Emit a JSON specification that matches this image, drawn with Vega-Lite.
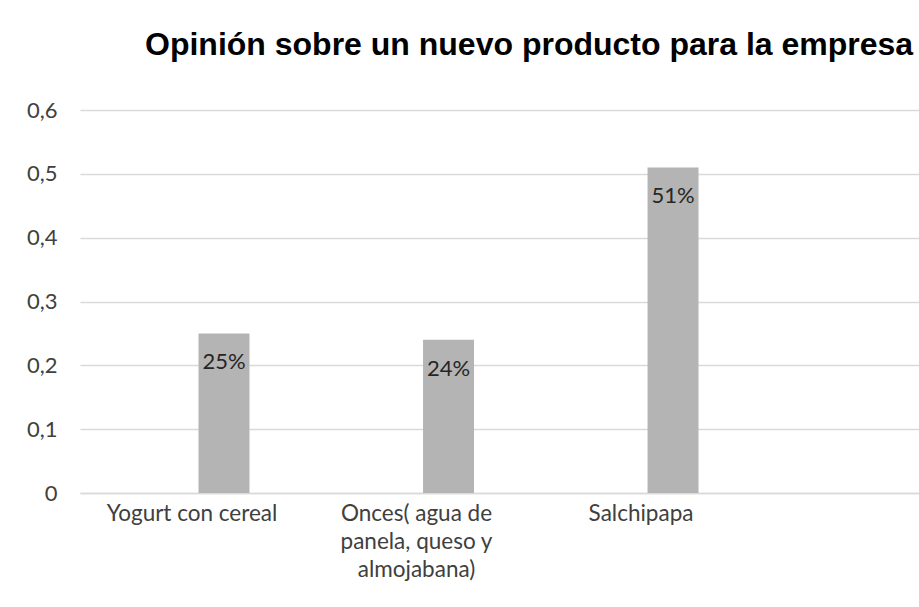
{
  "$schema": "https://vega.github.io/schema/vega-lite/v6.json",
  "autosize": "none",
  "width": 839,
  "height": 383,
  "padding": {"left": 80, "top": 110, "right": 0, "bottom": 114},
  "background": "white",
  "config": {"view": {"stroke": null}},
  "title": {
    "text": "Opinión sobre un nuevo producto para la empresa",
    "anchor": "start",
    "frame": "group",
    "dx": 65,
    "baseline": "alphabetic",
    "offset": 12,
    "font": "Liberation Sans",
    "fontSize": 32,
    "fontWeight": "bold",
    "color": "#000000"
  },
  "data": {
    "values": [
      {"producto": "Yogurt con cereal", "porcentaje": 0.25},
      {"producto": "Onces( agua de panela, queso y almojabana)", "porcentaje": 0.24},
      {"producto": "Salchipapa", "porcentaje": 0.51}
    ]
  },
  "encoding": {
    "x": {
      "field": "producto",
      "type": "nominal",
      "sort": null,
      "scale": {"paddingInner": 0.773, "paddingOuter": 0.755, "align": 0.3496},
      "axis": {
        "title": null,
        "labelAngle": 0,
        "labelAlign": "center",
        "labelBaseline": "top",
        "labelOffset": -32,
        "labelPadding": 9,
        "labelFont": "Lato",
        "labelFontSize": 22.5,
        "labelColor": "#404040",
        "labelLineHeight": 28,
        "labelLimit": 400,
        "ticks": false,
        "domainColor": "#d9d9d9",
        "domainWidth": 1.5,
        "labelExpr": "datum.value == 'Onces( agua de panela, queso y almojabana)' ? ['Onces( agua de', 'panela, queso y', 'almojabana)'] : datum.value"
      }
    },
    "y": {
      "field": "porcentaje",
      "type": "quantitative",
      "scale": {"domain": [0, 0.6], "nice": false},
      "axis": {
        "title": null,
        "values": [0, 0.1, 0.2, 0.3, 0.4, 0.5, 0.6],
        "domain": false,
        "ticks": false,
        "labelPadding": 23,
        "labelFont": "Lato",
        "labelFontSize": 22,
        "labelColor": "#404040",
        "gridColor": "#d9d9d9",
        "gridWidth": 1.5,
        "labelExpr": "datum.value == 0 ? '0' : replace(format(datum.value, '.1f'), '.', ',')"
      }
    }
  },
  "layer": [
    {"mark": {"type": "bar", "color": "#b4b4b4"}},
    {
      "mark": {
        "type": "text",
        "baseline": "middle",
        "dy": 29,
        "font": "Lato",
        "fontSize": 22,
        "color": "#262626"
      },
      "encoding": {
        "text": {"field": "porcentaje", "type": "quantitative", "format": ".0%"}
      }
    }
  ]
}
